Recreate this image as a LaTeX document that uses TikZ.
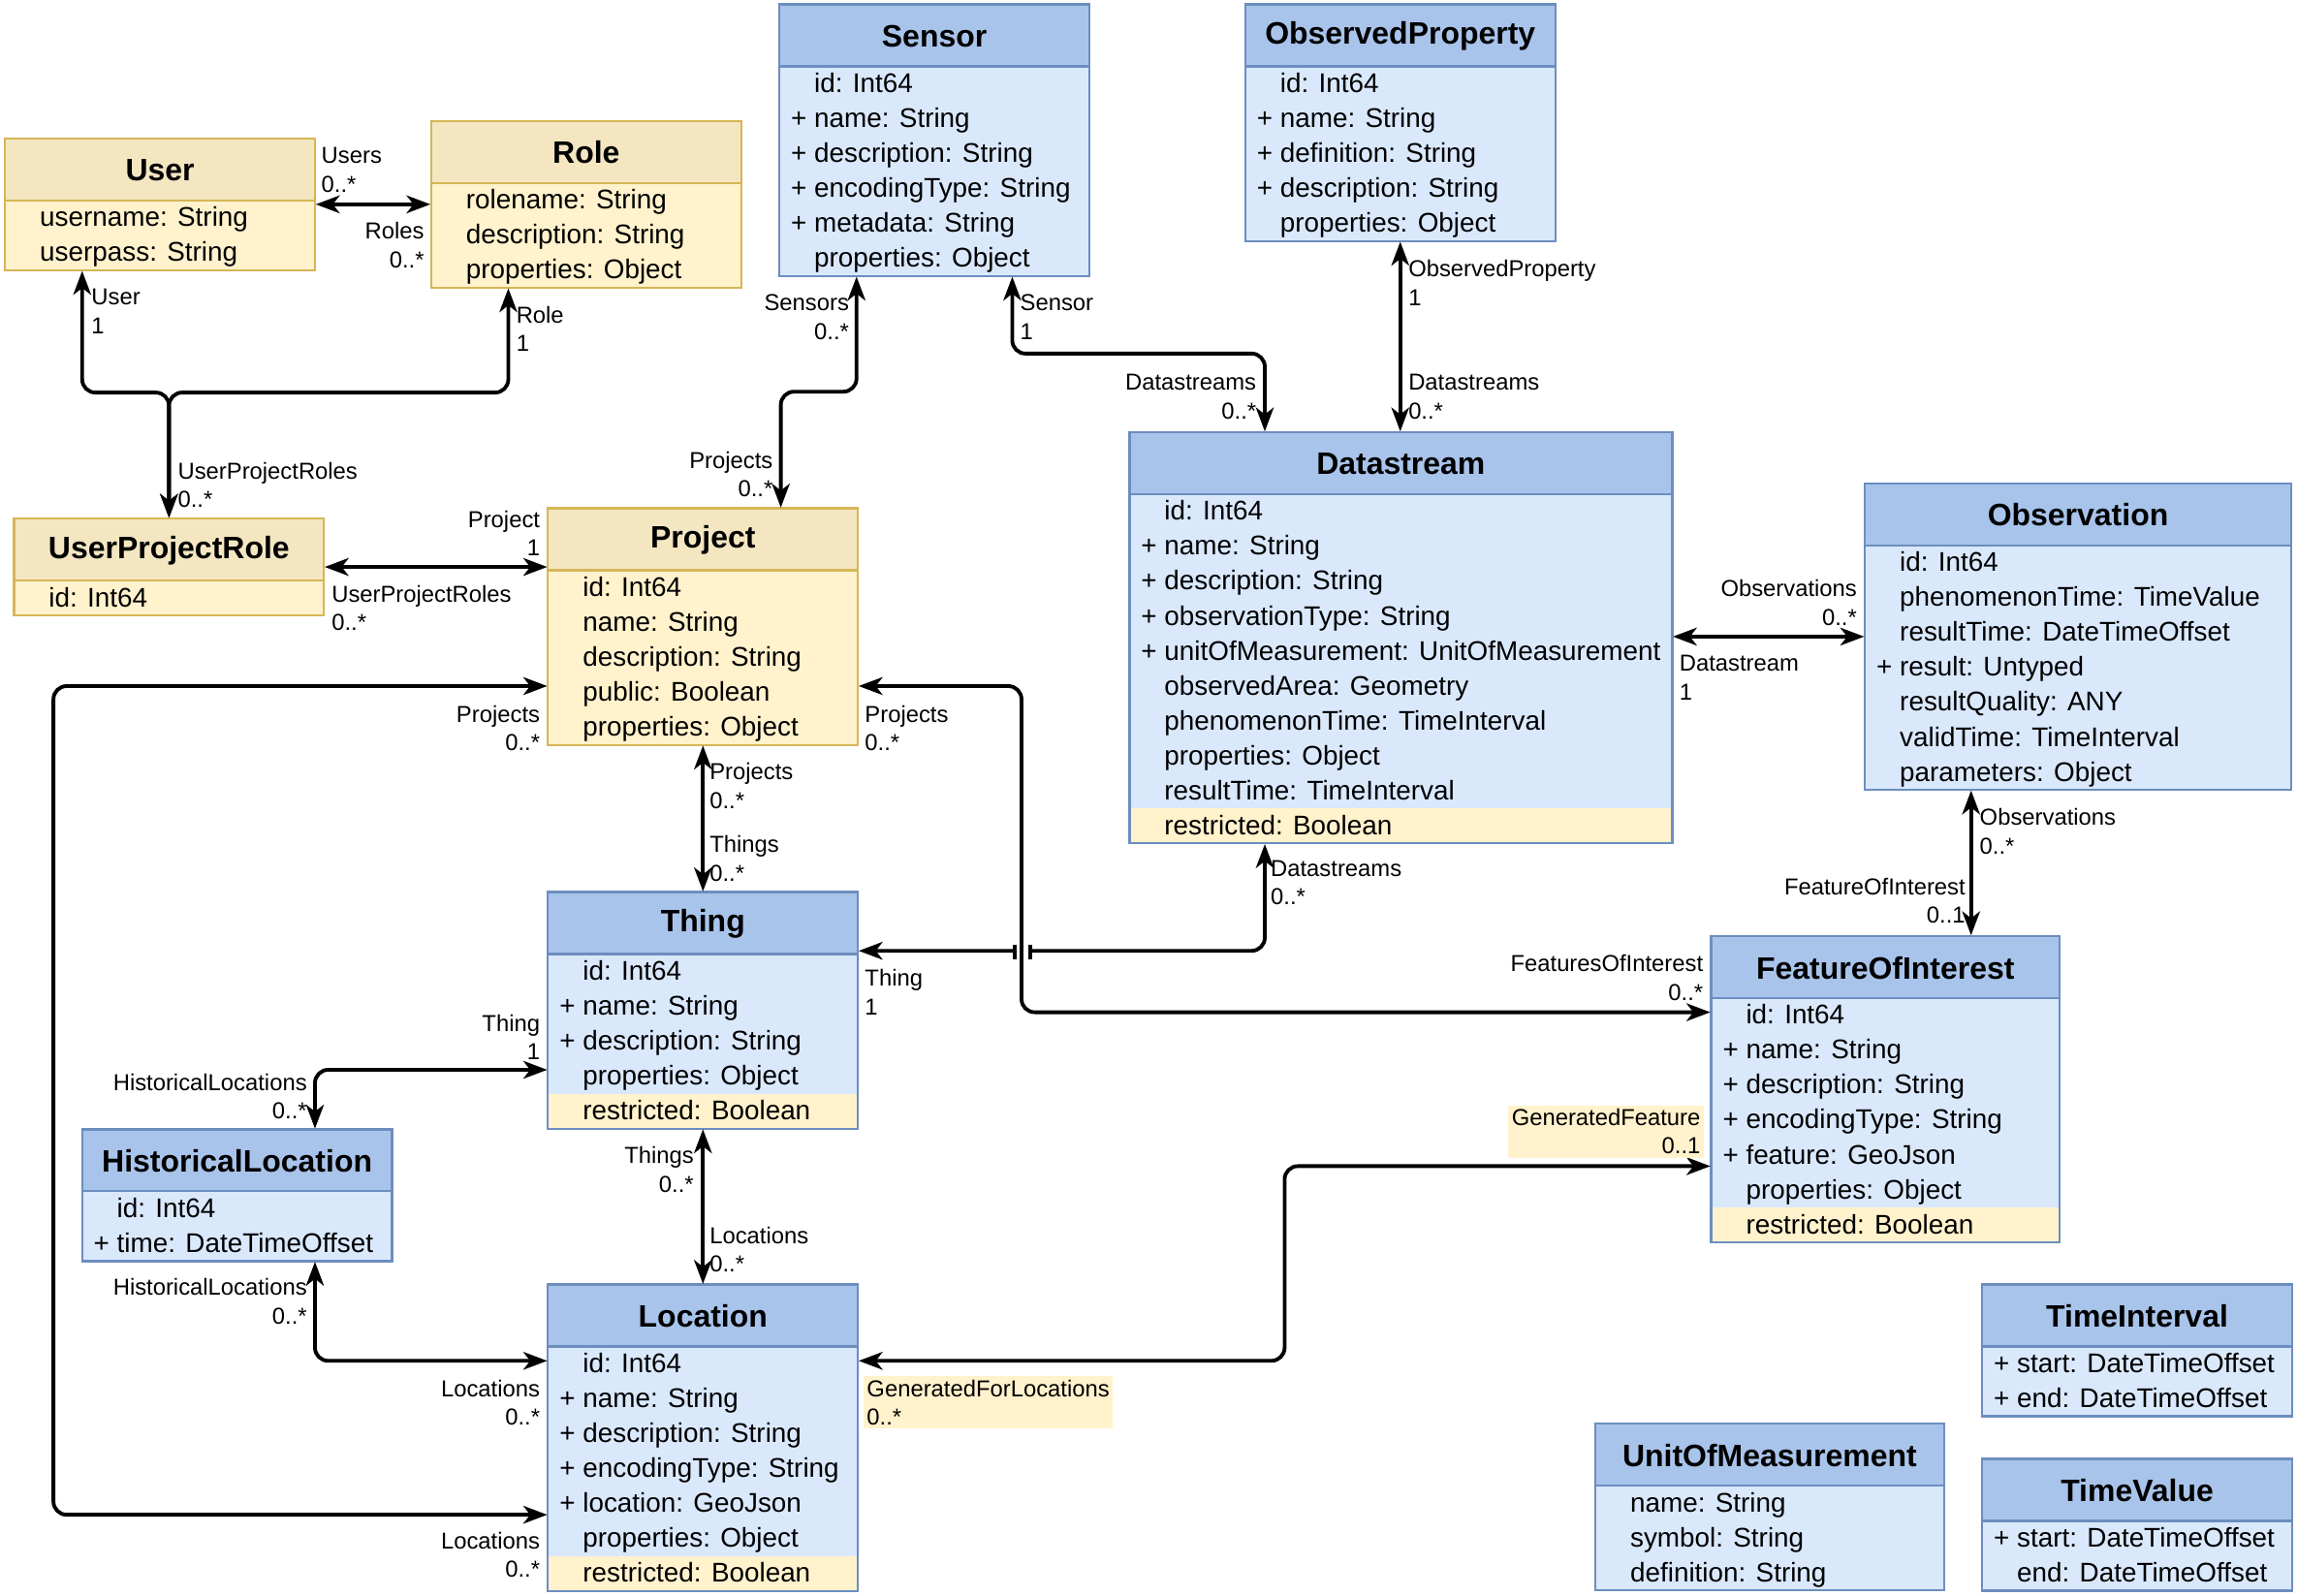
\documentclass[tikz,border=0pt]{standalone}
\usepackage{fontspec}
\setmainfont{Liberation Sans}
\usetikzlibrary{arrows.meta,fit,calc}
\definecolor{hdrB}{HTML}{A9C4EB}
\definecolor{bodyB}{HTML}{DAE8FC}
\definecolor{strB}{HTML}{6C8EBF}
\definecolor{hdrY}{HTML}{F3E6C1}
\definecolor{bodyY}{HTML}{FFF2CC}
\definecolor{strY}{HTML}{D6B656}
\newcommand\ind{\hphantom{+ }}
\newcommand\umlcls[8]{%
  \pgfmathsetmacro\cxa{#2}%
  \pgfmathsetmacro\cya{#3}%
  \pgfmathsetmacro\cxb{#2+#4}%
  \pgfmathsetmacro\cyb{#3+42.3+#5*23.85}%
  \pgfmathsetmacro\cyh{#3+42.3}%
  \pgfmathsetmacro\cyr{#3+42.3+(#5-1)*23.85}%
  \node[fit={(\cxa,\cya)(\cxb,\cyb)}, inner sep=0pt, fill=body#6] (#1) {};
  \fill[hdr#6] (\cxa,\cya) rectangle (\cxb,\cyh);
  \ifnum#8=1 \fill[bodyY] (\cxa,\cyr) rectangle (\cxb,\cyb);\fi
  \draw[str#6, line width=0.65pt] (\cxa,\cya) rectangle (\cxb,\cyb) (\cxa,\cyh) -- (\cxb,\cyh);
  \node[titlef] (#1-t) at ({(\cxa+\cxb)/2},{(\cya+\cyh)/2+0.5}) {#7};
}
\newcommand\attr[3]{\path (#1.north west) ++(8,{52.6+#2*23.85}) node[attrf, anchor=west] (#1-a#2) {#3};}
\tikzset{
  titlef/.style={font=\fontsize{9.1}{11}\selectfont\bfseries, inner sep=0pt},
  attrf/.style={font=\fontsize{7.93}{9.5}\selectfont, inner sep=0pt, text height=0.905em, text depth=0.212em},
  lbl/.style={font=\fontsize{6.78}{8.39}\selectfont, inner sep=0pt},
  lblL/.style={lbl, anchor=west, align=left},
  lblR/.style={lbl, anchor=east, align=right},
  ylw/.style={fill=bodyY, inner sep=1pt},
  conn/.style={draw=black, line width=1.1pt, rounded corners=0.136cm,
    {Stealth[length=7pt,width=5.2pt,inset=2pt]}-{Stealth[length=7pt,width=5.2pt,inset=2pt]}},
  tick/.style={draw=black, line width=1.1pt}
}
\begin{document}
\begin{tikzpicture}[x=0.015115cm, y=-0.015115cm]
\useasboundingbox (0,0) rectangle (1568,1089);
% ---------- classes ----------
\umlcls{user}{3.4}{94.5}{211.7}{2}{Y}{User}{0}
\attr{user}{0}{\ind username: String}
\attr{user}{1}{\ind userpass: String}
\umlcls{role}{294.3}{82.5}{211.7}{3}{Y}{Role}{0}
\attr{role}{0}{\ind rolename: String}
\attr{role}{1}{\ind description: String}
\attr{role}{2}{\ind properties: Object}
\umlcls{sensor}{532}{3}{211.7}{6}{B}{Sensor}{0}
\attr{sensor}{0}{\ind id: Int64}
\attr{sensor}{1}{+ name: String}
\attr{sensor}{2}{+ description: String}
\attr{sensor}{3}{+ encodingType: String}
\attr{sensor}{4}{+ metadata: String}
\attr{sensor}{5}{\ind properties: Object}
\umlcls{obsprop}{850}{3}{211.7}{5}{B}{ObservedProperty}{0}
\attr{obsprop}{0}{\ind id: Int64}
\attr{obsprop}{1}{+ name: String}
\attr{obsprop}{2}{+ definition: String}
\attr{obsprop}{3}{+ description: String}
\attr{obsprop}{4}{\ind properties: Object}
\umlcls{upr}{9.5}{354}{211.7}{1}{Y}{UserProjectRole}{0}
\attr{upr}{0}{\ind id: Int64}
\umlcls{project}{374}{347}{211.7}{5}{Y}{Project}{0}
\attr{project}{0}{\ind id: Int64}
\attr{project}{1}{\ind name: String}
\attr{project}{2}{\ind description: String}
\attr{project}{3}{\ind public: Boolean}
\attr{project}{4}{\ind properties: Object}
\umlcls{ds}{771}{295}{370.5}{10}{B}{Datastream}{1}
\attr{ds}{0}{\ind id: Int64}
\attr{ds}{1}{+ name: String}
\attr{ds}{2}{+ description: String}
\attr{ds}{3}{+ observationType: String}
\attr{ds}{4}{+ unitOfMeasurement: UnitOfMeasurement}
\attr{ds}{5}{\ind observedArea: Geometry}
\attr{ds}{6}{\ind phenomenonTime: TimeInterval}
\attr{ds}{7}{\ind properties: Object}
\attr{ds}{8}{\ind resultTime: TimeInterval}
\attr{ds}{9}{\ind restricted: Boolean}
\umlcls{obs}{1273}{330}{291}{7}{B}{Observation}{0}
\attr{obs}{0}{\ind id: Int64}
\attr{obs}{1}{\ind phenomenonTime: TimeValue}
\attr{obs}{2}{\ind resultTime: DateTimeOffset}
\attr{obs}{3}{+ result: Untyped}
\attr{obs}{4}{\ind resultQuality: ANY}
\attr{obs}{5}{\ind validTime: TimeInterval}
\attr{obs}{6}{\ind parameters: Object}
\umlcls{thing}{374}{609}{211.7}{5}{B}{Thing}{1}
\attr{thing}{0}{\ind id: Int64}
\attr{thing}{1}{+ name: String}
\attr{thing}{2}{+ description: String}
\attr{thing}{3}{\ind properties: Object}
\attr{thing}{4}{\ind restricted: Boolean}
\umlcls{hl}{56}{771}{211.7}{2}{B}{HistoricalLocation}{0}
\attr{hl}{0}{\ind id: Int64}
\attr{hl}{1}{+ time: DateTimeOffset}
\umlcls{foi}{1168}{639}{238}{7}{B}{FeatureOfInterest}{1}
\attr{foi}{0}{\ind id: Int64}
\attr{foi}{1}{+ name: String}
\attr{foi}{2}{+ description: String}
\attr{foi}{3}{+ encodingType: String}
\attr{foi}{4}{+ feature: GeoJson}
\attr{foi}{5}{\ind properties: Object}
\attr{foi}{6}{\ind restricted: Boolean}
\umlcls{loc}{374}{877}{211.7}{7}{B}{Location}{1}
\attr{loc}{0}{\ind id: Int64}
\attr{loc}{1}{+ name: String}
\attr{loc}{2}{+ description: String}
\attr{loc}{3}{+ encodingType: String}
\attr{loc}{4}{+ location: GeoJson}
\attr{loc}{5}{\ind properties: Object}
\attr{loc}{6}{\ind restricted: Boolean}
\umlcls{ti}{1353}{877}{211.7}{2}{B}{TimeInterval}{0}
\attr{ti}{0}{+ start: DateTimeOffset}
\attr{ti}{1}{+ end: DateTimeOffset}
\umlcls{uom}{1089}{972}{238}{3}{B}{UnitOfMeasurement}{0}
\attr{uom}{0}{\ind name: String}
\attr{uom}{1}{\ind symbol: String}
\attr{uom}{2}{\ind definition: String}
\umlcls{tv}{1353}{996}{211.7}{2}{B}{TimeValue}{0}
\attr{tv}{0}{+ start: DateTimeOffset}
\attr{tv}{1}{\ind end: DateTimeOffset}
% ---------- anchor points ----------
\coordinate (userS) at ($(user.south west)!0.25!(user.south east)$);
\coordinate (roleS) at ($(role.south west)!0.25!(role.south east)$);
\coordinate (sensS1) at ($(sensor.south west)!0.25!(sensor.south east)$);
\coordinate (sensS2) at ($(sensor.south west)!0.75!(sensor.south east)$);
\coordinate (projN) at ($(project.north west)!0.75!(project.north east)$);
\coordinate (dsN1) at ($(ds.north west)!0.25!(ds.north east)$);
\coordinate (dsS) at ($(ds.south west)!0.25!(ds.south east)$);
\coordinate (obsS) at ($(obs.south west)!0.25!(obs.south east)$);
\coordinate (thingE) at ($(thing.north east)!0.25!(thing.south east)$);
\coordinate (thingW) at ($(thing.north west)!0.75!(thing.south west)$);
\coordinate (projE) at ($(project.north east)!0.75!(project.south east)$);
\coordinate (projW) at ($(project.north west)!0.75!(project.south west)$);
\coordinate (foiW1) at ($(foi.north west)!0.25!(foi.south west)$);
\coordinate (foiW2) at ($(foi.north west)!0.75!(foi.south west)$);
\coordinate (locW1) at ($(loc.north west)!0.25!(loc.south west)$);
\coordinate (locW2) at ($(loc.north west)!0.75!(loc.south west)$);
\coordinate (locE) at ($(loc.north east)!0.25!(loc.south east)$);
\coordinate (hlN) at ($(hl.north west)!0.75!(hl.north east)$);
\coordinate (hlS) at ($(hl.south west)!0.75!(hl.south east)$);
\coordinate (w1) at (0,268);
\coordinate (w2) at (0,241.4);
\coordinate (w3) at (697.3,0);
\coordinate (w4) at (36.5,0);
\coordinate (w5) at (876.9,0);
\coordinate (w6) at (0,267.4);
% ---------- connectors ----------
\draw[conn] (user.east) -- (user.east -| role.west);
\draw[conn] (upr.north) -- (upr.north |- w1) -- (userS |- w1) -- (userS);
\draw[conn] (upr.north) -- (upr.north |- w1) -- (roleS |- w1) -- (roleS);
\draw[conn] (upr.east) -- (upr.east -| project.west);
\draw[conn] (sensS1) -- (sensS1 |- w6) -- (projN |- w6) -- (projN);
\draw[conn] (sensS2) -- (sensS2 |- w2) -- (dsN1 |- w2) -- (dsN1);
\draw[conn] (obsprop.south) -- (obsprop.south |- ds.north);
\draw[conn] (obs.west) -- (obs.west -| ds.east);
\draw[conn] (obsS) -- (obsS |- foi.north);
\draw[conn] (project.south) -- (thing.north);
\draw[conn] (thingE) -- (thingE -| dsS) -- (dsS);
\fill[white] (693.6,646) rectangle (701.8,654);
\draw[tick] (692.5,645) -- (692.5,655);
\draw[tick] (703,645) -- (703,655);
\draw[conn] (projE) -- (projE -| w3) -- (w3 |- foiW1) -- (foiW1);
\draw[conn] (projW) -- (projW -| w4) -- (w4 |- locW2) -- (locW2);
\draw[conn] (thingW) -- (thingW -| hlN) -- (hlN);
\draw[conn] (hlS) -- (hlS |- locW1) -- (locW1);
\draw[conn] (thing.south) -- (loc.north);
\draw[conn] (locE) -- (locE -| w5) -- (w5 |- foiW2) -- (foiW2);
% ---------- labels ----------
\node[lblL] (l1) at (219,116) {Users\\0..*};
\node[lblR] (l2) at (290,167.5) {Roles\\0..*};
\node[lblL] (l3) at (62,212.5) {User\\1};
\node[lblL] (l4) at (352,224.5) {Role\\1};
\node[lblL] (l5) at (121,331) {UserProjectRoles\\0..*};
\node[lblR] (l6) at (369,364) {Project\\1};
\node[lblL] (l7) at (226,415) {UserProjectRoles\\0..*};
\node[lblR] (l8) at (580,216.5) {Sensors\\0..*};
\node[lblR] (l9) at (528,324) {Projects\\0..*};
\node[lblL] (l10) at (696,216.5) {Sensor\\1};
\node[lblR] (l11) at (858,271) {Datastreams\\0..*};
\node[lblL] (l12) at (961,193) {ObservedProperty\\1};
\node[lblL] (l13) at (961,271) {Datastreams\\0..*};
\node[lblR] (l14) at (1268,411.5) {Observations\\0..*};
\node[lblL] (l15) at (1146,462.5) {Datastream\\1};
\node[lblL] (l16) at (1351,567.5) {Observations\\0..*};
\node[lblR] (l17) at (1342,615) {FeatureOfInterest\\0..1};
\node[lblL] (l18) at (484,536.5) {Projects\\0..*};
\node[lblL] (l19) at (484,586) {Things\\0..*};
\node[lblR] (l20) at (369,497) {Projects\\0..*};
\node[lblL] (l21) at (590,497) {Projects\\0..*};
\node[lblL] (l22) at (590,677.5) {Thing\\1};
\node[lblL] (l23) at (867,602.5) {Datastreams\\0..*};
\node[lblR] (l24) at (1163,667.5) {FeaturesOfInterest\\0..*};
\node[lblR] (l25) at (369,708) {Thing\\1};
\node[lblR] (l26) at (210,748.5) {HistoricalLocations\\0..*};
\node[lblR, ylw] (l27) at (1163.5,772.5) {GeneratedFeature\\0..1};
\node[lblR] (l28) at (474,798.5) {Things\\0..*};
\node[lblL] (l29) at (484,853) {Locations\\0..*};
\node[lblR] (l30) at (210,888.5) {HistoricalLocations\\0..*};
\node[lblR] (l31) at (369,957.5) {Locations\\0..*};
\node[lblL, ylw] (l32) at (589,957.5) {GeneratedForLocations\\0..*};
\node[lblR] (l33) at (369,1061.5) {Locations\\0..*};
\end{tikzpicture}
\end{document}
